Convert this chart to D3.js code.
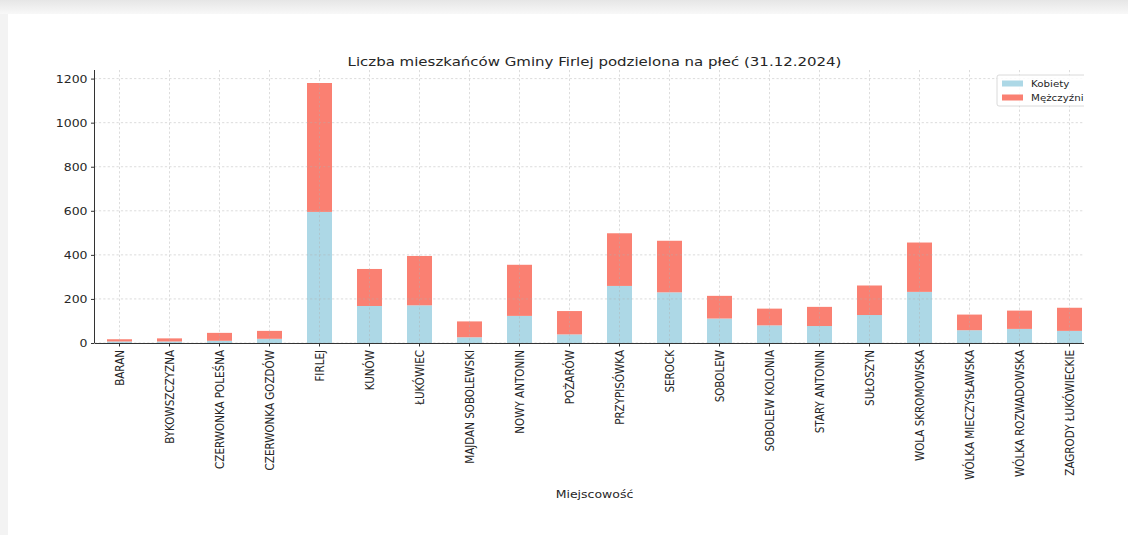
<!DOCTYPE html>
<html>
<head>
<meta charset="utf-8">
<script src="https://cdn.jsdelivr.net/npm/d3@7"></script>
<style>
  html, body { margin: 0; padding: 0; background: #ffffff; }
  svg { display: block; font-family: "DejaVu Sans", sans-serif; }
</style>
</head>
<body>
<svg id="chart" width="1128" height="535"></svg>
<script>
const categories = ["BARAN", "BYKOWSZCZYZNA", "CZERWONKA POLEŚNA", "CZERWONKA GOZDÓW", "FIRLEJ", "KUNÓW", "ŁUKÓWIEC", "MAJDAN SOBOLEWSKI", "NOWY ANTONIN", "POŻARÓW", "PRZYPISÓWKA", "SEROCK", "SOBOLEW", "SOBOLEW KOLONIA", "STARY ANTONIN", "SUŁOSZYN", "WOLA SKROMOWSKA", "WÓLKA MIECZYSŁAWSKA", "WÓLKA ROZWADOWSKA", "ZAGRODY ŁUKÓWIECKIE"];
const kobiety = [7, 7, 10, 19, 595, 168, 171, 26, 123, 39, 259, 230, 111, 80, 77, 127, 232, 58, 64, 55];
const mezczyzni = [10, 14, 36, 36, 585, 168, 224, 72, 232, 106, 239, 234, 103, 76, 87, 134, 224, 71, 83, 105];
const seriesNames = ["Kobiety", "Mężczyźni"];
const seriesColors = ["#add8e6", "#fa8072"];
const yTicks = [0, 200, 400, 600, 800, 1000, 1200];
const titleText = "Liczba mieszkańców Gminy Firlej podzielona na płeć (31.12.2024)";
const xLabelText = "Miejscowość";

(function () {
const svg = d3.select("#chart");
const W = 1128, H = 535;
const SY = 0.83; // vertical glyph squash seen in the reference
const textColor = "#262626";

// page frame (screenshot surroundings)
const defs = svg.append("defs");
const grad = defs.append("linearGradient").attr("id", "topband").attr("x1", 0).attr("y1", 0).attr("x2", 0).attr("y2", 1);
grad.append("stop").attr("offset", "0%").attr("stop-color", "#e6e6e6");
grad.append("stop").attr("offset", "100%").attr("stop-color", "#f8f8f8");
svg.append("rect").attr("x", 0).attr("y", 0).attr("width", W).attr("height", 14).attr("fill", "url(#topband)");
svg.append("rect").attr("x", 0).attr("y", 14).attr("width", 8).attr("height", H - 14).attr("fill", "#f3f3f3");

defs.append("clipPath").attr("id", "figclip")
  .append("rect").attr("x", 0).attr("y", 0).attr("width", 1084).attr("height", H);

const fig = svg.append("g").attr("clip-path", "url(#figclip)");

const pLeft = 94.5, pRight = 1094.5, pTop = 70, pBottom = 343;
const x = d3.scaleBand().domain(categories).range([pLeft, pRight]).paddingInner(0.5).paddingOuter(0.25);
const ymax = d3.max(categories.map((c, i) => kobiety[i] + mezczyzni[i])) * 1.05;
const y = d3.scaleLinear().domain([0, ymax]).range([pBottom, pTop]);

// stacked data
const rows = categories.map((c, i) => ({ cat: c, Kobiety: kobiety[i], "Mężczyźni": mezczyzni[i] }));
const stack = d3.stack().keys(seriesNames)(rows);

const barsG = fig.append("g");
stack.forEach((layer, li) => {
  barsG.selectAll(null).data(layer).enter().append("rect")
    .attr("x", d => x(d.data.cat))
    .attr("width", x.bandwidth())
    .attr("y", d => y(d[1]))
    .attr("height", d => y(d[0]) - y(d[1]))
    .attr("fill", seriesColors[li]);
});

// grid (drawn over bars, faint)
const grid = fig.append("g").attr("stroke", "#b0b0b0").attr("stroke-width", 0.8)
  .attr("stroke-dasharray", "2.2,2.2").attr("opacity", 0.55);
grid.selectAll(null).data(yTicks).enter().append("line")
  .attr("x1", pLeft).attr("x2", pRight).attr("y1", d => y(d)).attr("y2", d => y(d));
grid.selectAll(null).data(categories).enter().append("line")
  .attr("x1", d => x(d) + x.bandwidth() / 2).attr("x2", d => x(d) + x.bandwidth() / 2)
  .attr("y1", pTop).attr("y2", pBottom);

// axes
const yAxis = d3.axisLeft(y).tickValues(yTicks).tickFormat(d3.format("d")).tickSize(3.5).tickPadding(3.5);
const yg = fig.append("g").attr("transform", `translate(${pLeft},0)`).call(yAxis);
yg.select(".domain").attr("d", `M0,${pBottom}V${pTop}`).attr("stroke", "#333").attr("stroke-width", 1);
yg.selectAll(".tick line").attr("stroke", "#333");
yg.selectAll(".tick text").attr("fill", textColor).attr("font-size", 12.5)
  .attr("font-family", "DejaVu Sans").attr("transform", `scale(1,${SY})`).attr("dy", "0.36em");

const xAxis = d3.axisBottom(x).tickSize(3.5).tickSizeOuter(0).tickPadding(0);
const xg = fig.append("g").attr("transform", `translate(0,${pBottom})`).call(xAxis);
xg.select(".domain").attr("stroke", "#333").attr("stroke-width", 1);
xg.selectAll(".tick line").attr("stroke", "#333");
xg.selectAll(".tick text").attr("fill", textColor).attr("font-size", 12.5)
  .attr("font-family", "DejaVu Sans")
  .attr("text-anchor", "end").attr("x", 0).attr("y", 0).attr("dy", "0.35em")
  .attr("transform", `translate(0,7) scale(1,${SY}) rotate(-90)`);

// title
fig.append("text").attr("transform", `translate(${(pLeft + pRight) / 2},66) scale(1,${SY})`)
  .attr("text-anchor", "middle").attr("font-size", 15).attr("fill", textColor).text(titleText);

// x label
fig.append("text").attr("transform", `translate(${(pLeft + pRight) / 2},498) scale(1,${SY})`)
  .attr("text-anchor", "middle").attr("font-size", 12.5).attr("fill", textColor).text(xLabelText);

// legend
const lg = fig.append("g").attr("transform", "translate(997,75)");
lg.append("rect").attr("x", 0).attr("y", 0).attr("width", 120).attr("height", 31).attr("rx", 2)
  .attr("fill", "#ffffff").attr("fill-opacity", 0.85).attr("stroke", "#d0d0d0").attr("stroke-width", 0.8);
seriesNames.forEach((name, i) => {
  lg.append("rect").attr("x", 5).attr("y", 5.5 + i * 14).attr("width", 21).attr("height", 6).attr("fill", seriesColors[i]);
  lg.append("text").attr("transform", `translate(34,${12 + i * 14}) scale(1,${SY})`)
    .attr("font-size", 10.3).attr("fill", textColor).text(name);
});
})();
</script>
</body>
</html>
